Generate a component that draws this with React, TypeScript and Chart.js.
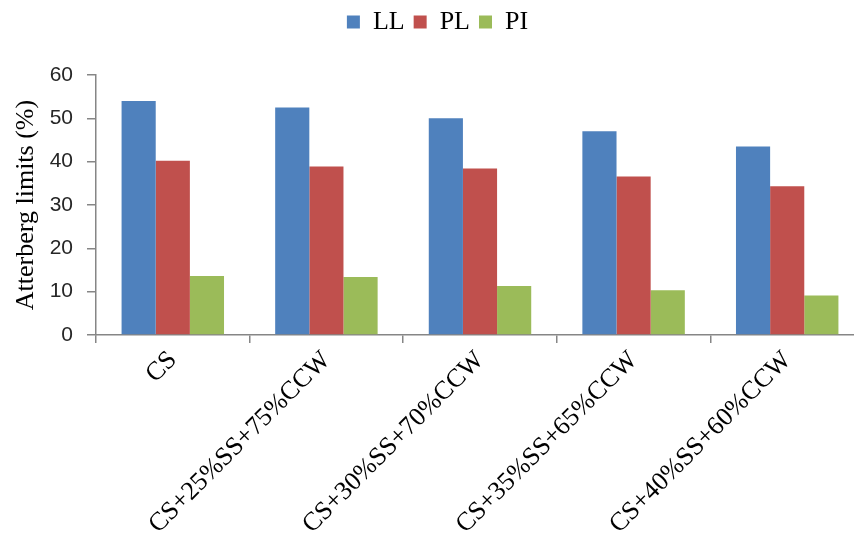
import React, { useEffect, useRef } from "react";
import { Chart, registerables } from "chart.js";

Chart.register(...registerables);

// Mix designations along the horizontal axis
const categories: string[] = [
  "CS",
  "CS+25%SS+75%CCW",
  "CS+30%SS+70%CCW",
  "CS+35%SS+65%CCW",
  "CS+40%SS+60%CCW",
];

// Atterberg limits (%) per mix
const liquidLimit: number[] = [54.0, 52.5, 50.0, 47.0, 43.5];
const plasticLimit: number[] = [40.2, 38.9, 38.4, 36.6, 34.3];
const plasticityIndex: number[] = [13.6, 13.4, 11.3, 10.3, 9.1];

const seriesNames: string[] = ["LL", "PL", "PI"];
const seriesColors: string[] = ["#4F81BD", "#C0504D", "#9BBB59"];

const yTitle = "Atterberg limits (%)";
const yMin = 0;
const yMax = 60;
const yStep = 10;

const SERIF = "'Liberation Serif', 'Times New Roman', serif";
const SANS = "'Liberation Sans', Arial, sans-serif";
const AXIS_GREY = "#868686";

// Extra room between the legend row and the plot area
const legendGap = {
  id: "legendGap",
  afterInit(chart: any) {
    const legend = chart.legend;
    if (!legend) return;
    const fit = legend.fit.bind(legend);
    legend.fit = function () {
      fit();
      this.height += 30;
    };
  },
};

export default function App() {
  const canvasRef = useRef<HTMLCanvasElement | null>(null);

  useEffect(() => {
    const canvas = canvasRef.current;
    if (!canvas) return;
    const values = [liquidLimit, plasticLimit, plasticityIndex];
    const chart = new Chart(canvas, {
      type: "bar",
      data: {
        labels: categories,
        datasets: seriesNames.map((name, i) => ({
          label: name,
          data: values[i],
          backgroundColor: seriesColors[i],
          borderWidth: 0,
          categoryPercentage: 0.667,
          barPercentage: 1,
        })),
      },
      plugins: [legendGap],
      options: {
        responsive: false,
        animation: false,
        layout: { padding: { left: 11, right: 2, top: 0, bottom: 0 } },
        plugins: {
          tooltip: { enabled: false },
          legend: {
            position: "top",
            labels: {
              boxWidth: 13,
              boxHeight: 13,
              padding: 9,
              color: "#000000",
              font: { family: SERIF, size: 26 },
            },
          },
        },
        scales: {
          x: {
            offset: true,
            grid: {
              offset: true,
              drawOnChartArea: false,
              drawTicks: true,
              tickLength: 8,
              color: AXIS_GREY,
              lineWidth: 1.5,
            },
            border: { color: AXIS_GREY, width: 1.5 },
            ticks: {
              maxRotation: 45,
              minRotation: 45,
              padding: 2,
              color: "#000000",
              font: { family: SERIF, size: 26 },
            },
            afterFit: (scale: any) => {
              scale.height = 203;
            },
          },
          y: {
            min: yMin,
            max: yMax,
            ticks: {
              stepSize: yStep,
              padding: 14,
              color: "#262626",
              font: { family: SANS, size: 21 },
            },
            grid: {
              drawOnChartArea: false,
              drawTicks: true,
              tickLength: 9,
              color: AXIS_GREY,
              lineWidth: 1.5,
            },
            border: { color: AXIS_GREY, width: 1.5 },
            title: {
              display: true,
              text: yTitle,
              color: "#000000",
              padding: 0,
              font: { family: SERIF, size: 26, weight: "normal" },
            },
            afterFit: (scale: any) => {
              scale.width = 85;
            },
          },
        },
      },
    });
    return () => chart.destroy();
  }, []);

  return (
    <div
      style={{
        position: "fixed",
        left: 0,
        top: 0,
        width: 854,
        height: 538,
        overflow: "hidden",
        background: "#ffffff",
      }}
    >
      <canvas ref={canvasRef} width={866} height={538} style={{ display: "block" }} />
    </div>
  );
}
